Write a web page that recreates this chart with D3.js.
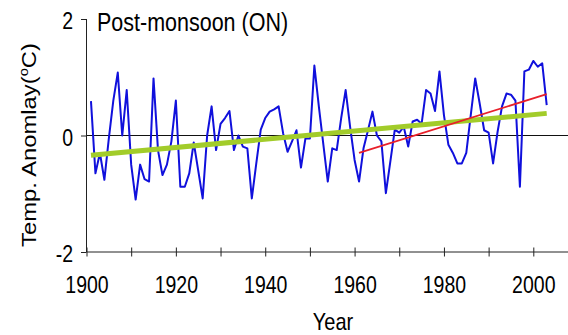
<!DOCTYPE html>
<html>
<head>
<meta charset="utf-8">
<script src="https://cdn.jsdelivr.net/npm/d3@7"></script>
<style>
  body { margin: 0; background: #fff; }
  svg { display: block; font-family: "Liberation Sans", Arial, sans-serif; }
</style>
</head>
<body>
<div id="chart"></div>
<script>
"use strict";

// annual post-monsoon (Oct-Nov) temperature anomaly
const years = d3.range(1901, 2004);
const anomaly = [
   0.59, -0.65, -0.30, -0.76, -0.05,  0.60,  1.08,  0.00,  0.78, -0.50,
  -1.10, -0.50, -0.75, -0.79,  0.98, -0.25, -0.68, -0.50, -0.10,  0.60,
  -0.88, -0.88, -0.65, -0.12, -0.60, -1.08,  0.00,  0.50, -0.25,  0.20,
   0.30,  0.42, -0.25,  0.00, -0.19, -0.22, -1.08, -0.48,  0.10,  0.30,
   0.41,  0.45,  0.50,  0.04, -0.28, -0.10,  0.09, -0.55, -0.05, -0.05,
   1.20,  0.50, -0.15, -0.79, -0.22, -0.25,  0.30,  0.78,  0.15, -0.42,
  -0.79, -0.22,  0.09,  0.41,  0.00, -0.10, -0.99, -0.45,  0.10,  0.05,
   0.15, -0.19,  0.24,  0.27,  0.20,  0.78,  0.72,  0.42,  1.10,  0.35,
  -0.16, -0.30, -0.48, -0.48, -0.30,  0.35,  0.98,  0.55,  0.09,  0.05,
  -0.48,  0.06,  0.50,  0.72,  0.70,  0.60, -0.88,  1.10,  1.13,  1.28,
   1.18,  1.24,  0.52
];

// linear trends: whole record and 1961 onwards (end points)
const trendAllYears = [1901, 2003];
const trendAllValues = [-0.34, 0.38];
const trendRecentYears = [1961, 2003];
const trendRecentValues = [-0.30, 0.71];

const xTicks = d3.range(1900, 2010, 10);
const yTicks = [-2, 0, 2];

const W = 568, H = 335;
const stretch = 1.22; // the picture is a bit taller than it is wide

const x = d3.scaleLinear().domain([1900, 2000]).range([86.5, 533.3]);
const y = d3.scaleLinear().domain([-2, 2]).range([252, 19]);

const svg = d3.select("#chart").append("svg")
  .attr("width", W)
  .attr("height", H);

// zero line
svg.append("line")
  .attr("x1", x(1900)).attr("x2", W)
  .attr("y1", y(0)).attr("y2", y(0))
  .attr("stroke", "#111").attr("stroke-width", 1);

// x axis, ticks crossing the line, labels every 20 years
const xAxis = d3.axisBottom(x)
  .tickValues(xTicks)
  .tickSize(4.5)
  .tickFormat(d => d % 20 === 0 ? d : "");

const gx = svg.append("g")
  .attr("transform", `translate(0,${y(-2)})`)
  .call(xAxis);
gx.select(".domain").remove();
gx.append("line")
  .attr("x1", x(1900)).attr("x2", W)
  .attr("stroke", "#222");
gx.selectAll(".tick line").attr("y1", -4.5).attr("y2", 4.5).attr("stroke", "#222");
gx.selectAll(".tick text")
  .attr("y", null).attr("dy", null)
  .attr("transform", `translate(0,41) scale(1,${stretch})`)
  .attr("font-size", 19.5)
  .attr("font-family", "Liberation Sans, Arial, sans-serif")
  .attr("fill", "#000");

// y axis
const yAxis = d3.axisLeft(y).tickValues(yTicks).tickSize(5.5).tickFormat(d => String(d));
const gy = svg.append("g")
  .attr("transform", `translate(${x(1900)},0)`)
  .call(yAxis);
gy.select(".domain").remove();
gy.append("line").attr("y1", y(2)).attr("y2", y(-2)).attr("stroke", "#222");
gy.selectAll(".tick line").attr("stroke", "#222");
gy.selectAll(".tick text")
  .attr("x", null).attr("dy", null)
  .attr("text-anchor", "end")
  .attr("transform", `translate(-13.5,9.5) scale(1,${stretch})`)
  .attr("font-size", 19.5)
  .attr("font-family", "Liberation Sans, Arial, sans-serif")
  .attr("fill", "#000");

// series
const line = d3.line().x(d => x(d[0])).y(d => y(d[1]));

svg.append("path")
  .datum(d3.zip(years, anomaly))
  .attr("fill", "none")
  .attr("stroke", "#1010dc")
  .attr("stroke-width", 2)
  .attr("stroke-linejoin", "round")
  .attr("d", line);

svg.append("path")
  .datum(d3.zip(trendAllYears, trendAllValues))
  .attr("fill", "none")
  .attr("stroke", "#a2cc2a")
  .attr("stroke-width", 5)
  .attr("d", line);

svg.append("path")
  .datum(d3.zip(trendRecentYears, trendRecentValues))
  .attr("fill", "none")
  .attr("stroke", "#e8202a")
  .attr("stroke-width", 1.8)
  .attr("d", line);

// texts
svg.append("text")
  .attr("transform", `translate(97,30.5) scale(1,${stretch})`)
  .attr("font-size", 21.5)
  .text("Post-monsoon (ON)");

svg.append("text")
  .attr("transform", `translate(333,330) scale(1,${stretch})`)
  .attr("text-anchor", "middle")
  .attr("font-size", 20)
  .text("Year");

const yLab = svg.append("text")
  .attr("transform", `translate(36,145) scale(1,${stretch}) rotate(-90)`)
  .attr("text-anchor", "middle")
  .attr("font-size", 19.5);
yLab.append("tspan").text("Temp. Anomlay(");
yLab.append("tspan").attr("font-size", 12).attr("dy", -8).text("o");
yLab.append("tspan").attr("dy", 8).text("C)");
</script>
</body>
</html>
